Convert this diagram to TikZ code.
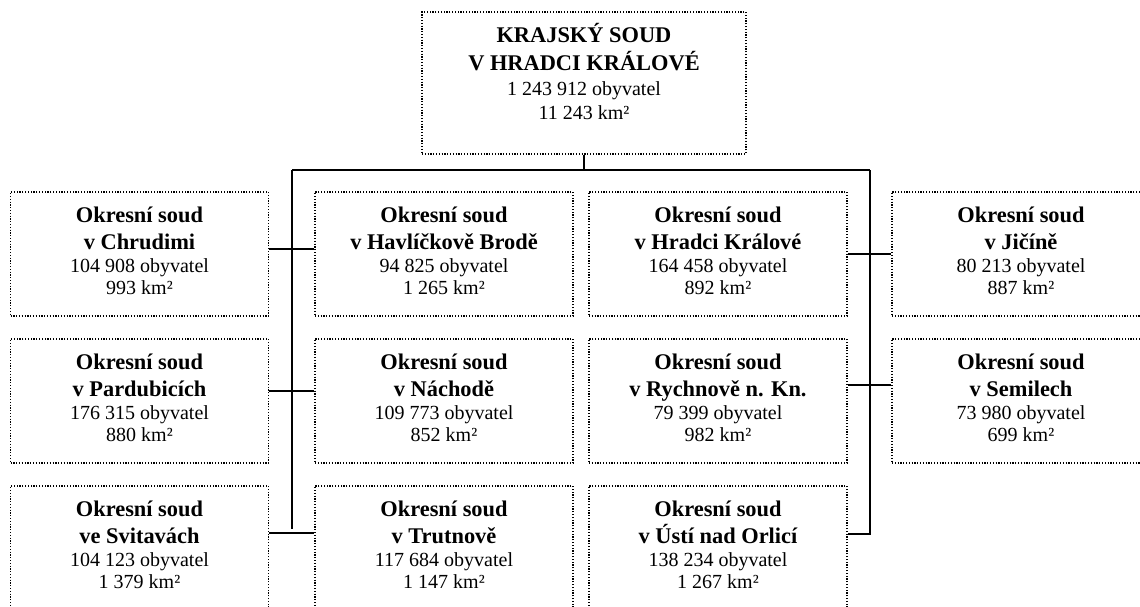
\documentclass[tikz,border=0pt]{standalone}
\usepackage{fontspec}
\setmainfont{Liberation Serif}
\renewcommand{\arraystretch}{0}
\newcommand{\hd}[1]{{\fontsize{22.4}{26}\selectfont\bfseries #1}}
\newcommand{\st}[2]{\rule[-#2pt]{0pt}{\dimexpr #1pt+#2pt\relax}}
\newcommand{\court}[4]{\begin{tabular}{@{}c@{}}\st{21}{6}\hd{#1}\\\st{21}{6}\hd{#2}\\\st{17}{5}#3\\\st{17}{13}#4\end{tabular}}
\begin{document}
\begin{tikzpicture}[x=1pt,y=-1pt,
  dotbox/.style={draw, line width=1.2pt, dash pattern=on 1.2pt off 1.6pt, inner sep=0pt},
  court/.style={dotbox, minimum width=258pt, minimum height=124pt,
    font=\fontsize{20}{22}\selectfont},
  link/.style={line width=2pt}]
\useasboundingbox (0,0) rectangle (1140,606);
% top
\node[dotbox, minimum width=324pt, minimum height=142pt] (top) at (584,83) {};
\node[anchor=north, inner sep=0pt, font=\fontsize{20}{24}\selectfont] (toptext) at (584,21)
  {\begin{tabular}{@{}c@{}}\st{21}{7}\hd{KRAJSKÝ SOUD}\\\st{21}{7}\hd{V HRADCI KRÁLOVÉ}\\\st{18}{6}1 243 912 obyvatel\\\st{18}{6}11 243 km²\end{tabular}};
% column 1
\node[court] (c11) at (139.5,254) {\court{Okresní soud}{v Chrudimi}{104 908 obyvatel}{993 km²}};
\node[court] (c21) at (139.5,401) {\court{Okresní soud}{v Pardubicích}{176 315 obyvatel}{880 km²}};
\node[court] (c31) at (139.5,548) {\court{Okresní soud}{ve Svitavách}{104 123 obyvatel}{1 379 km²}};
% column 2
\node[court] (c12) at (444,254) {\court{Okresní soud}{v Havlíčkově Brodě}{94 825 obyvatel}{1 265 km²}};
\node[court] (c22) at (444,401) {\court{Okresní soud}{v Náchodě}{109 773 obyvatel}{852 km²}};
\node[court] (c32) at (444,548) {\court{Okresní soud}{v Trutnově}{117 684 obyvatel}{1 147 km²}};
% column 3
\node[court] (c13) at (718,254) {\court{Okresní soud}{v Hradci Králové}{164 458 obyvatel}{892 km²}};
\node[court] (c23) at (718,401) {\court{Okresní soud}{v Rychnově n. Kn.}{79 399 obyvatel}{982 km²}};
\node[court] (c33) at (718,548) {\court{Okresní soud}{v Ústí nad Orlicí}{138 234 obyvatel}{1 267 km²}};
% column 4
\node[court] (c14) at (1021,254) {\court{Okresní soud}{v Jičíně}{80 213 obyvatel}{887 km²}};
\node[court] (c24) at (1021,401) {\court{Okresní soud}{v Semilech}{73 980 obyvatel}{699 km²}};
% connectors
\coordinate (bl) at (292,170);
\coordinate (br) at (870,170);
\coordinate (blend) at (292,529);
\draw[link] (top.south) -- (top.south |- bl);
\draw[link] (bl) -- (br);
\draw[link] (bl) -- (blend);
\draw[link] (br) |- ([yshift=14pt]c33.east);
\draw[link] ([yshift=5pt]c11.east) -- ([yshift=5pt]c12.west);
\draw[link] ([yshift=10pt]c21.east) -- ([yshift=10pt]c22.west);
\draw[link] ([yshift=15pt]c31.east) -- ([yshift=15pt]c32.west);
\draw[link] (c13.east) -- (c14.west);
\draw[link] ([yshift=16pt]c23.east) -- ([yshift=16pt]c24.west);
\end{tikzpicture}
\end{document}
